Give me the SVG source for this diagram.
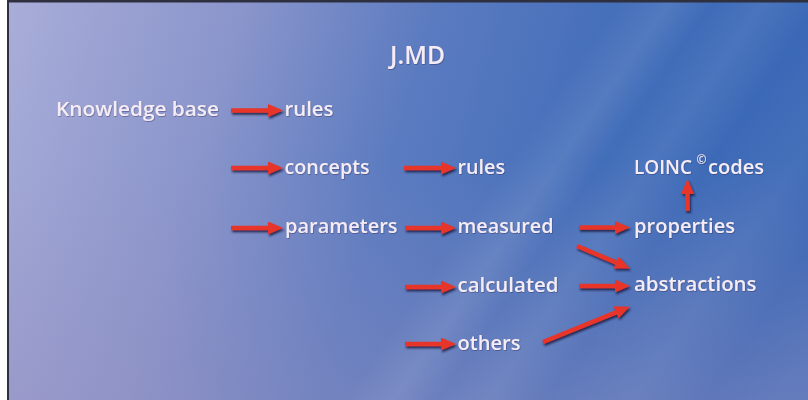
<svg xmlns="http://www.w3.org/2000/svg" width="808" height="400" viewBox="0 0 808 400">
  <defs>
    <linearGradient id="bg" x1="0" y1="0" x2="808" y2="230" gradientUnits="userSpaceOnUse">
      <stop offset="0" stop-color="#aaaed9"/>
      <stop offset="0.28" stop-color="#8a95cb"/>
      <stop offset="0.5" stop-color="#5b7bc0"/>
      <stop offset="0.75" stop-color="#416db9"/>
      <stop offset="1" stop-color="#3866b5"/>
    </linearGradient>
    <linearGradient id="bottom" x1="0" y1="0" x2="0" y2="400" gradientUnits="userSpaceOnUse">
      <stop offset="0.4" stop-color="#9890bf" stop-opacity="0"/>
      <stop offset="1" stop-color="#9890bf" stop-opacity="0.4"/>
    </linearGradient>
    <linearGradient id="streaks" x1="330" y1="0" x2="820" y2="340" gradientUnits="userSpaceOnUse">
      <stop offset="0" stop-color="#ffffff" stop-opacity="0"/>
      <stop offset="0.4" stop-color="#ffffff" stop-opacity="0"/>
      <stop offset="0.47" stop-color="#ffffff" stop-opacity="0.09"/>
      <stop offset="0.53" stop-color="#ffffff" stop-opacity="0"/>
      <stop offset="0.6" stop-color="#ffffff" stop-opacity="0.07"/>
      <stop offset="0.68" stop-color="#ffffff" stop-opacity="0"/>
      <stop offset="0.8" stop-color="#ffffff" stop-opacity="0.06"/>
      <stop offset="0.9" stop-color="#ffffff" stop-opacity="0"/>
      <stop offset="1" stop-color="#ffffff" stop-opacity="0.04"/>
    </linearGradient>
    <marker id="head" markerUnits="userSpaceOnUse" markerWidth="16" markerHeight="14" refX="4" refY="6.5" orient="auto">
      <path d="M0,0 L15,6.5 L0,13 Z" fill="#e8352c"/>
    </marker>
    <filter id="shadow" x="-20%" y="-50%" width="140%" height="200%">
      <feDropShadow dx="1.2" dy="2" stdDeviation="0.9" flood-color="#15193a" flood-opacity="0.85"/>
    </filter>
    <filter id="tshadow" x="-10%" y="-30%" width="120%" height="160%">
      <feDropShadow dx="0.6" dy="0.8" stdDeviation="0.6" flood-color="#2a2a55" flood-opacity="0.5"/>
    </filter>
  </defs>
  <style>
    .t { font-family: "Open Sans", "Liberation Sans", sans-serif; font-weight: 600; font-size: 20.5px; fill: #f5ecf5; }
    .title { font-size: 26px; }
    .sup { font-size: 12px; }
    .arrow { stroke: #e8352c; stroke-width: 4.5; fill: none; marker-end: url(#head); }
  </style>

  <rect x="0" y="0" width="808" height="400" fill="#ffffff"/>
  <rect x="8" y="2" width="800" height="398" fill="url(#bg)"/>
  <rect x="8" y="2" width="800" height="398" fill="url(#bottom)"/>
  <rect x="8" y="2" width="800" height="398" fill="url(#streaks)"/>
  <rect x="7" y="0" width="801" height="2.5" fill="#2e3040"/>
  <rect x="7" y="0" width="2" height="400" fill="#2e3040"/>

  <g id="connectors" filter="url(#shadow)">
    <line class="arrow" x1="231" y1="110.5" x2="272" y2="110.5"/>
    <line class="arrow" x1="231" y1="168" x2="272" y2="168"/>
    <line class="arrow" x1="231" y1="228" x2="272" y2="228"/>
    <line class="arrow" x1="404" y1="168" x2="445" y2="168"/>
    <line class="arrow" x1="405" y1="228" x2="445" y2="228"/>
    <line class="arrow" x1="405" y1="287" x2="445" y2="287"/>
    <line class="arrow" x1="405" y1="344" x2="445" y2="344"/>
    <line class="arrow" x1="579" y1="227.5" x2="619" y2="227.5"/>
    <line class="arrow" x1="577" y1="246" x2="619.8" y2="264.1"/>
    <line class="arrow" x1="579" y1="286" x2="619" y2="286"/>
    <line class="arrow" x1="543" y1="342" x2="619.7" y2="310.8"/>
    <line class="arrow" x1="687.5" y1="211" x2="687.5" y2="190"/>
  </g>

  <g filter="url(#tshadow)">
    <g id="title"><text class="t title" x="390" y="64" textLength="55" lengthAdjust="spacingAndGlyphs">J.MD</text></g>
    <g id="knowledge-base"><text class="t" x="56" y="116" textLength="163" lengthAdjust="spacingAndGlyphs">Knowledge base</text></g>
    <g id="rules-1"><text class="t" x="284.5" y="116" textLength="49" lengthAdjust="spacingAndGlyphs">rules</text></g>
    <g id="concepts"><text class="t" x="284.5" y="174" textLength="85" lengthAdjust="spacingAndGlyphs">concepts</text></g>
    <g id="rules-2"><text class="t" x="457.5" y="174" textLength="47.5" lengthAdjust="spacingAndGlyphs">rules</text></g>
    <g id="parameters"><text class="t" x="285" y="233" textLength="112.5" lengthAdjust="spacingAndGlyphs">parameters</text></g>
    <g id="measured"><text class="t" x="457.5" y="233" textLength="96" lengthAdjust="spacingAndGlyphs">measured</text></g>
    <g id="calculated"><text class="t" x="457.5" y="292" textLength="101" lengthAdjust="spacingAndGlyphs">calculated</text></g>
    <g id="others"><text class="t" x="457.5" y="350" textLength="63" lengthAdjust="spacingAndGlyphs">others</text></g>
    <g id="loinc-codes">
      <text class="t" x="634" y="174.3" textLength="58" lengthAdjust="spacingAndGlyphs">LOINC</text>
      <text class="t sup" x="696.5" y="164">©</text>
      <text class="t" x="708" y="174.3" textLength="56" lengthAdjust="spacingAndGlyphs">codes</text>
    </g>
    <g id="properties"><text class="t" x="634" y="232.5" textLength="101" lengthAdjust="spacingAndGlyphs">properties</text></g>
    <g id="abstractions"><text class="t" x="634" y="291" textLength="122.5" lengthAdjust="spacingAndGlyphs">abstractions</text></g>
  </g>
</svg>
